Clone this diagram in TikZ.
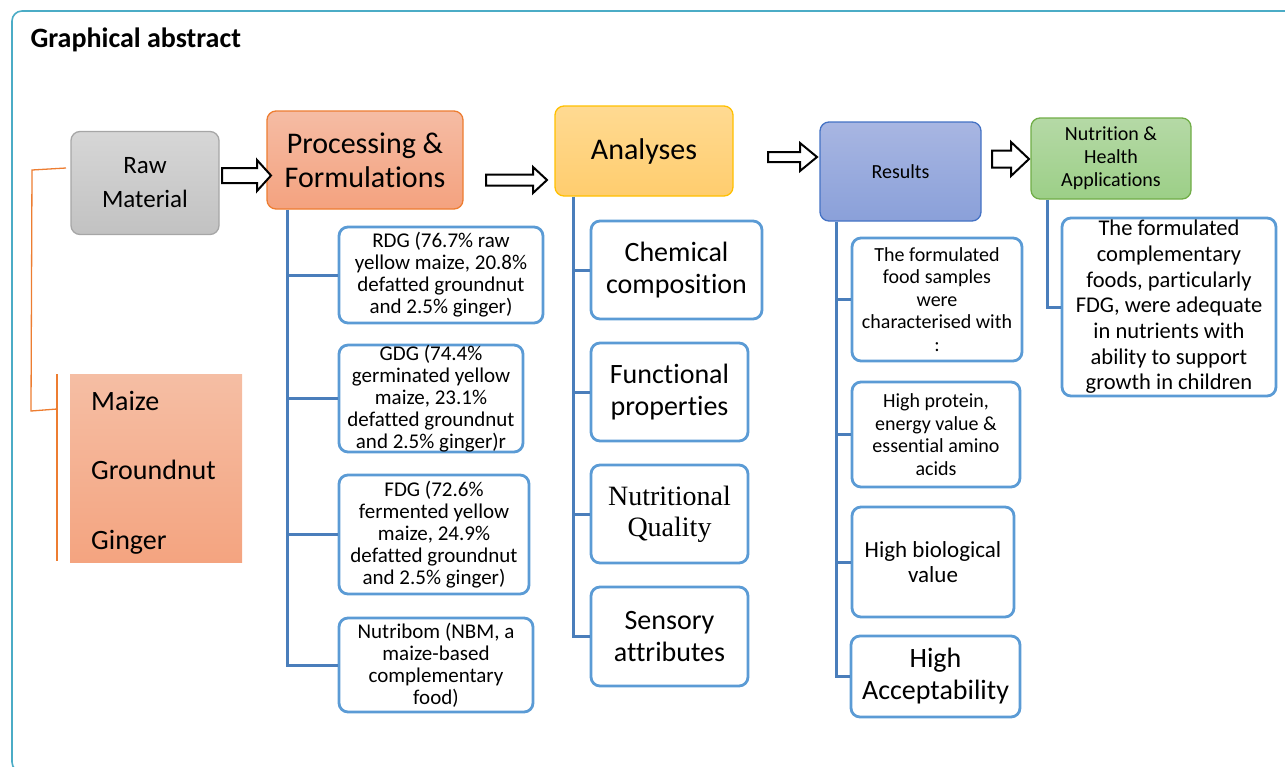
\documentclass[tikz,border=0pt]{standalone}
\usepackage{fontspec}
\setmainfont{Carlito}[Ligatures=CommonOff]
\newfontfamily\timesfont{Liberation Serif}
\definecolor{subblue}{HTML}{5B9BD5}
\definecolor{connblue}{HTML}{4A7EBB}
\definecolor{frameblue}{HTML}{4BACC6}
\definecolor{orangeline}{HTML}{ED7D31}
\newcommand\fs[2]{\fontsize{#1}{#2}\selectfont}
\newcommand\blkarrow[6]{\draw[blk] (#1,#3-#4) -- (#2-#6,#3-#4) -- (#2-#6,#3-#5) -- (#2,#3) -- (#2-#6,#3+#5) -- (#2-#6,#3+#4) -- (#1,#3+#4) -- cycle;}
\begin{document}
\begin{tikzpicture}[x=1pt,y=-1pt,
  subbox/.style={draw=subblue, line width=2.8pt, rounded corners=9pt, fill=white, align=center, inner sep=0pt},
  hdr/.style={rounded corners=9pt, align=center, inner sep=0pt, line width=1.3pt},
  conn/.style={draw=connblue, line width=3pt},
  blk/.style={draw=black, fill=white, line width=2pt, line join=miter},
  oline/.style={draw=orangeline, line width=1.3pt}]
\useasboundingbox (0,0) rectangle (1285,766);
\draw[frameblue, line width=1.6pt, rounded corners=10pt] (12,11) rectangle (1300,772);
\node[anchor=west, font=\bfseries\fs{28}{30}] (title) at (27,40) {Graphical abstract};

% headers
\node[hdr, draw=black!35, top color=black!16, bottom color=black!24, minimum width=148, minimum height=103, font=\fs{25}{34}] (raw) at (145,183) {Raw\\Material};
\node[hdr, draw=orangeline, top color={rgb,255:red,245;green,188;blue,164}, bottom color={rgb,255:red,244;green,162;blue,127}, minimum width=196, minimum height=98, font=\fs{30}{34}] (proc) at (365,160) {Processing \&\\Formulations};
\node[hdr, draw={rgb,255:red,255;green,192;blue,0}, top color={rgb,255:red,255;green,218;blue,146}, bottom color={rgb,255:red,255;green,205;blue,110}, minimum width=178, minimum height=90, font=\fs{30}{34}] (ana) at (644,151) {Analyses};
\node[hdr, draw={rgb,255:red,68;green,114;blue,196}, top color={rgb,255:red,168;green,182;blue,226}, bottom color={rgb,255:red,138;green,160;blue,217}, minimum width=161, minimum height=99, font=\fs{20}{23}] (res) at (900.5,171.5) {Results};
\node[hdr, draw={rgb,255:red,112;green,173;blue,71}, top color={rgb,255:red,181;green,217;blue,166}, bottom color={rgb,255:red,156;green,207;blue,135}, minimum width=160, minimum height=81, font=\fs{20}{23}] (app) at (1111,158.5) {Nutrition \&\\Health\\Applications};

% block arrows
\blkarrow{222}{271}{175.5}{7.5}{15.5}{14}
\blkarrow{486}{547}{180}{5.5}{13}{14}
\blkarrow{768}{817}{157}{5}{14}{17}
\blkarrow{992}{1029}{159}{8.5}{17}{18}

% raw material list
\node[inner sep=0pt, top color={rgb,255:red,245;green,190;blue,164}, bottom color={rgb,255:red,244;green,164;blue,128}, minimum width=172, minimum height=188] (ing) at (156,468) {};
\node[anchor=west, align=left, inner sep=0pt, font=\fs{28}{69.5}] (ingtext) at (91,472.5) {Maize\\Groundnut\\Ginger};
\draw[oline] (66,168) -- (32,170) -- (31,411) -- (57,409);
\draw[oline] (57,374) -- (57,561);

% processing sub boxes
\node[subbox, minimum width=204, minimum height=96, font=\fs{21}{22}] (rdg) at (441,275) {RDG (76.7\% raw\\yellow maize, 20.8\%\\defatted groundnut\\and 2.5\% ginger)};
\node[subbox, minimum width=184, minimum height=105, font=\fs{21}{22}] (gdg) at (431,398.5) {GDG (74.4\%\\germinated yellow\\maize, 23.1\%\\defatted groundnut\\and 2.5\% ginger)r};
\node[subbox, minimum width=190, minimum height=119, font=\fs{21}{22}] (fdg) at (434,534.5) {FDG (72.6\%\\fermented yellow\\maize, 24.9\%\\defatted groundnut\\and 2.5\% ginger)};
\node[subbox, minimum width=194, minimum height=94, font=\fs{21}{22}] (nbm) at (436,665) {Nutribom (NBM, a\\maize-based\\complementary\\food)};
\draw[conn] (proc.south -| 287,0) |- (nbm.west);
\foreach \n in {rdg,gdg,fdg} \draw[conn] (\n.west -| 287,0) -- (\n.west);

% analyses sub boxes
\node[subbox, minimum width=171, minimum height=98, font=\fs{28}{32}] (chem) at (676.5,270) {Chemical\\composition};
\node[subbox, minimum width=157, minimum height=98, font=\fs{28}{32}] (func) at (669.5,392) {Functional\\properties};
\node[subbox, minimum width=157, minimum height=98, font=\timesfont\fs{28}{31}] (nutr) at (669.5,514) {Nutritional\\Quality};
\node[subbox, minimum width=157, minimum height=99, font=\fs{28}{32}] (sens) at (669.5,636.5) {Sensory\\attributes};
\draw[conn] (ana.south -| 573,0) |- (sens.west);
\foreach \n in {chem,func,nutr} \draw[conn] (\n.west -| 573,0) -- (\n.west);

% results sub boxes
\node[subbox, minimum width=170, minimum height=123, font=\fs{20}{22.5}] (r1) at (937,299.5) {The formulated\\food samples\\were\\characterised with\\:};
\node[subbox, minimum width=168, minimum height=105, font=\fs{20}{22.5}] (r2) at (936,434.5) {High protein,\\energy value \&\\essential amino\\acids};
\node[subbox, minimum width=162, minimum height=110, font=\fs{23}{25}] (r3) at (933,562) {High biological\\value};
\node[subbox, minimum width=169, minimum height=81, font=\fs{28}{32}] (r4) at (935.5,676.5) {High\\Acceptability};
\draw[conn] (res.south -| 836,0) |- (r4.west);
\foreach \n in {r1,r2,r3} \draw[conn] (\n.west -| 836,0) -- (\n.west);

% application box
\node[subbox, minimum width=214, minimum height=178, font=\fs{22.5}{25.7}] (appbox) at (1169,307) {The formulated\\complementary\\foods, particularly\\FDG, were adequate\\in nutrients with\\ability to support\\growth in children};
\draw[conn] (app.south -| 1047,0) |- (appbox.west);
\end{tikzpicture}
\end{document}
